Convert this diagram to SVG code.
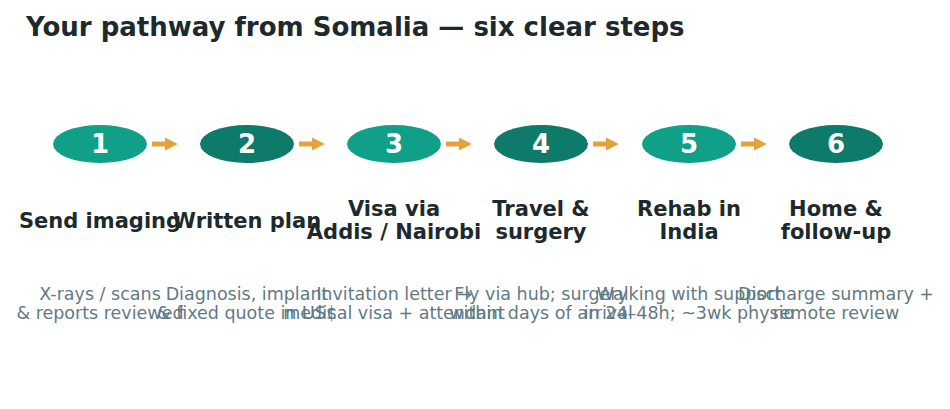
<svg xmlns="http://www.w3.org/2000/svg" width="950" height="409" viewBox="0 0 950 409">
<style>
text{font-family:"DejaVu Sans",sans-serif;text-anchor:middle}
.t{font-size:21px;font-weight:bold;fill:#1c2a2e}
.d{font-size:17.5px;fill:#5f7a86}
.n{font-size:26px;font-weight:bold;fill:#fff}
.a{fill:#10a087}.b{fill:#0e7a69}
.c{stroke:#e3a33a;stroke-width:5;fill:none}
</style>
<defs><marker id="m" viewBox="0 0 10 10" refX="4" refY="5" markerWidth="2.6" markerHeight="2.8" orient="auto"><path d="M0,0L10,5L0,10z" fill="#e3a33a"/></marker></defs>
<rect width="950" height="409" fill="#fff"/>
<text x="26" y="36" style="text-anchor:start;font-size:26px;font-weight:bold;fill:#1c2a2e">Your pathway from Somalia — six clear steps</text>
<g id="connectors">
<path class="c" d="M152 144H170" marker-end="url(#m)"/>
<path class="c" d="M299 144H317" marker-end="url(#m)"/>
<path class="c" d="M446 144H464" marker-end="url(#m)"/>
<path class="c" d="M593 144H611" marker-end="url(#m)"/>
<path class="c" d="M741 144H759" marker-end="url(#m)"/>
</g>
<g id="s1"><ellipse class="a" cx="100" cy="144" rx="47" ry="19"/><text class="n" x="100" y="153">1</text><text class="t" x="100" y="228">Send imaging</text><text class="d" x="100" y="300">X-rays / scans</text><text class="d" x="100" y="319">&amp; reports reviewed</text></g>
<g id="s2"><ellipse class="b" cx="247" cy="144" rx="47" ry="19"/><text class="n" x="247" y="153">2</text><text class="t" x="247" y="228">Written plan</text><text class="d" x="247" y="300">Diagnosis, implant</text><text class="d" x="247" y="319">&amp; fixed quote in US$</text></g>
<g id="s3"><ellipse class="a" cx="394" cy="144" rx="47" ry="19"/><text class="n" x="394" y="153">3</text><text class="t" x="394" y="216">Visa via</text><text class="t" x="394" y="239">Addis / Nairobi</text><text class="d" x="394" y="300">Invitation letter →</text><text class="d" x="394" y="319">medical visa + attendant</text></g>
<g id="s4"><ellipse class="b" cx="541" cy="144" rx="47" ry="19"/><text class="n" x="541" y="153">4</text><text class="t" x="541" y="216">Travel &amp;</text><text class="t" x="541" y="239">surgery</text><text class="d" x="541" y="300">Fly via hub; surgery</text><text class="d" x="541" y="319">within days of arrival</text></g>
<g id="s5"><ellipse class="a" cx="689" cy="144" rx="47" ry="19"/><text class="n" x="689" y="153">5</text><text class="t" x="689" y="216">Rehab in</text><text class="t" x="689" y="239">India</text><text class="d" x="689" y="300">Walking with support</text><text class="d" x="689" y="319">in 24–48h; ~3wk physio</text></g>
<g id="s6"><ellipse class="b" cx="836" cy="144" rx="47" ry="19"/><text class="n" x="836" y="153">6</text><text class="t" x="836" y="216">Home &amp;</text><text class="t" x="836" y="239">follow-up</text><text class="d" x="836" y="300">Discharge summary +</text><text class="d" x="836" y="319">remote review</text></g>
</svg>
